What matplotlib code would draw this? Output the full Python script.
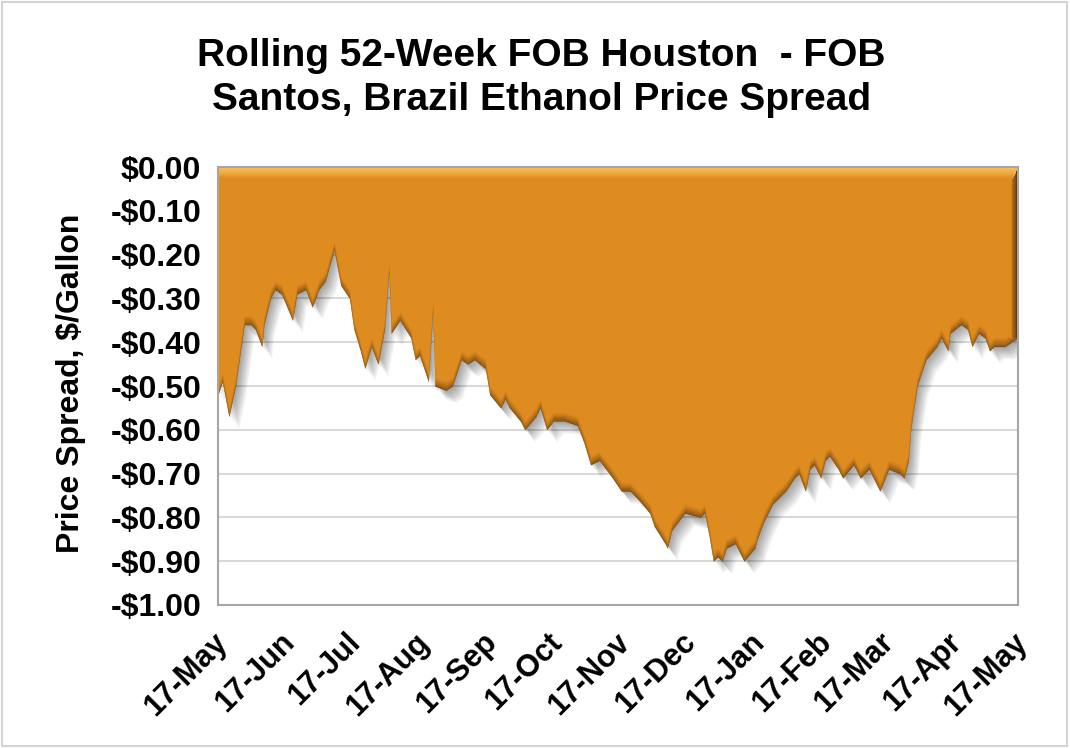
import datetime as dt
import numpy as np
import matplotlib
matplotlib.use("Agg")
import matplotlib.pyplot as plt
import matplotlib.dates as mdates
import matplotlib.transforms as mtransforms
from matplotlib.colors import to_rgb
from matplotlib.patches import Rectangle

# days after 17-May, and the FOB Houston - FOB Santos spread ($/gal)
days = [0, 2, 5, 8, 12, 15, 17, 20, 21, 24, 26, 29, 34, 36, 40, 43, 46, 49, 53, 56,
        60, 62, 65, 67, 70, 73, 76, 78, 79, 83, 88, 90, 92, 96, 98, 99, 104, 107, 111, 114,
        117, 122, 124, 129, 131, 133, 138, 140, 145, 147, 150, 153, 158, 164, 167, 170, 174, 177, 180, 184,
        188, 192, 197, 199, 204, 205, 207, 213, 220, 222, 224, 226, 228, 230, 232, 236, 240, 245, 246, 249,
        253, 259, 263, 265, 268, 270, 272, 275, 277, 279, 283, 285, 290, 293, 297, 302, 306, 311, 313, 315,
        316, 319, 323, 328, 330, 333, 334, 339, 342, 344, 347, 350, 352, 354, 359, 365]
spread = [-0.52, -0.49, -0.57, -0.50, -0.36, -0.36, -0.37, -0.41, -0.36, -0.30, -0.28, -0.29, -0.35, -0.29, -0.28, -0.32, -0.28, -0.26, -0.19, -0.27,
          -0.30, -0.37, -0.42, -0.46, -0.41, -0.45, -0.37, -0.24, -0.38, -0.35, -0.39, -0.44, -0.43, -0.49, -0.33, -0.50, -0.51, -0.50, -0.44, -0.45,
          -0.44, -0.46, -0.52, -0.55, -0.53, -0.55, -0.58, -0.60, -0.57, -0.55, -0.60, -0.58, -0.58, -0.59, -0.63, -0.68, -0.67, -0.69, -0.71, -0.74,
          -0.74, -0.76, -0.79, -0.82, -0.86, -0.87, -0.83, -0.79, -0.80, -0.79, -0.84, -0.90, -0.89, -0.90, -0.87, -0.86, -0.90, -0.87, -0.85, -0.81,
          -0.77, -0.74, -0.71, -0.70, -0.74, -0.69, -0.68, -0.71, -0.67, -0.66, -0.69, -0.71, -0.68, -0.71, -0.69, -0.74, -0.69, -0.70, -0.71, -0.67,
          -0.60, -0.50, -0.44, -0.41, -0.39, -0.42, -0.38, -0.36, -0.37, -0.41, -0.38, -0.39, -0.42, -0.41, -0.41, -0.39]
y_ticks = [0.0, -0.1, -0.2, -0.3, -0.4, -0.5, -0.6, -0.7, -0.8, -0.9, -1.0]

plt.rcParams['font.family'] = ['Liberation Sans', 'DejaVu Sans']
plt.rcParams['font.weight'] = 'bold'

start = mdates.date2num(dt.date(2018, 5, 17))
x = start + np.array(days, dtype=float)
y = np.array(spread)
month_ticks = [mdates.date2num(dt.date(2018 + (4 + i) // 12, (4 + i) % 12 + 1, 17)) for i in range(13)]

main = np.array(to_rgb('#DE8B1F'))
dark = np.array(to_rgb('#6E420C'))
light = np.array(to_rgb('#FBC35C'))

fig = plt.figure(figsize=(10.7, 7.48), dpi=100)
ax = fig.add_axes([0.2037, 0.1912, 0.7477, 0.5855])

# soft drop shadow under the curve
for k in range(1, 11):
    ax.fill_between(x + 0.45 * k, 0, y - 0.0028 * k, color='black', alpha=0.04, lw=0, zorder=1)

# main area
ax.fill_between(x, 0, y, color=main, lw=0, zorder=2)

# bevel along the lower edge
n = 10
d = 0.02
for i in range(n):
    c = dark + (main - dark) * (i / n) ** 0.8
    ax.fill_between(x, y + d * i / n, y + d * (i + 1) / n, color=c, lw=0, zorder=3)

# lighter bevel along the top
for i in range(n):
    c = light + (main - light) * (i / n)
    ax.fill_between(x[[0, -1]], [-0.026 * i / n] * 2, [-0.026 * (i + 1) / n] * 2,
                    color=c, lw=0, zorder=3)

# darker right edge
for i in range(n):
    c = main + (dark * 0.6 - main) * (i / n)
    x0 = x[-1] - 3.6 + 3.6 * i / n
    ax.fill_between([x0, x0 + 3.6 / n], -0.004 * (n - i), y[-1], color=c, lw=0, zorder=4)

ax.set_xlim(x[0], x[-1])
ax.set_ylim(-1.0, 0.0)
ax.set_yticks(y_ticks)
ax.set_yticklabels(['$0.00'] + ['-${:.2f}'.format(abs(v)) for v in y_ticks[1:]], fontsize=23)
ax.set_xticks(month_ticks)
ax.xaxis.set_major_formatter(mdates.DateFormatter('%d-%b'))
ax.tick_params(axis='y', length=0, pad=12)
ax.tick_params(axis='x', top=True, bottom=False, direction='in', length=8, width=1.5,
               color='#f3f3f3', labelsize=22, pad=16)
for lab in ax.get_xticklabels():
    lab.set_rotation(45)
    lab.set_ha('right')
    lab.set_va('top')
    lab.set_rotation_mode('anchor')
    lab.set_transform(lab.get_transform() + mtransforms.ScaledTranslation(-0.06, 0, fig.dpi_scale_trans))

ax.grid(axis='y', color='#d9d9d9', lw=1.5)
ax.set_axisbelow(True)
for s in ax.spines.values():
    s.set_color('#a6a6a6')
    s.set_linewidth(1.5)
    s.set_zorder(5)

fig.text(0.506, 0.896, 'Rolling 52-Week FOB Houston  - FOB\nSantos, Brazil Ethanol Price Spread',
         ha='center', va='center', fontsize=28, fontweight='bold', linespacing=1.3)
fig.text(0.066, 0.488, 'Price Spread, $/Gallon', rotation=90, ha='center', va='center',
         fontsize=23, fontweight='bold')

fig.patches.append(Rectangle((0.002, 0.003), 0.995, 0.994, transform=fig.transFigure,
                             fill=False, ec='#d4d4d4', lw=1.5))

fig.savefig('out.png', dpi=100)
